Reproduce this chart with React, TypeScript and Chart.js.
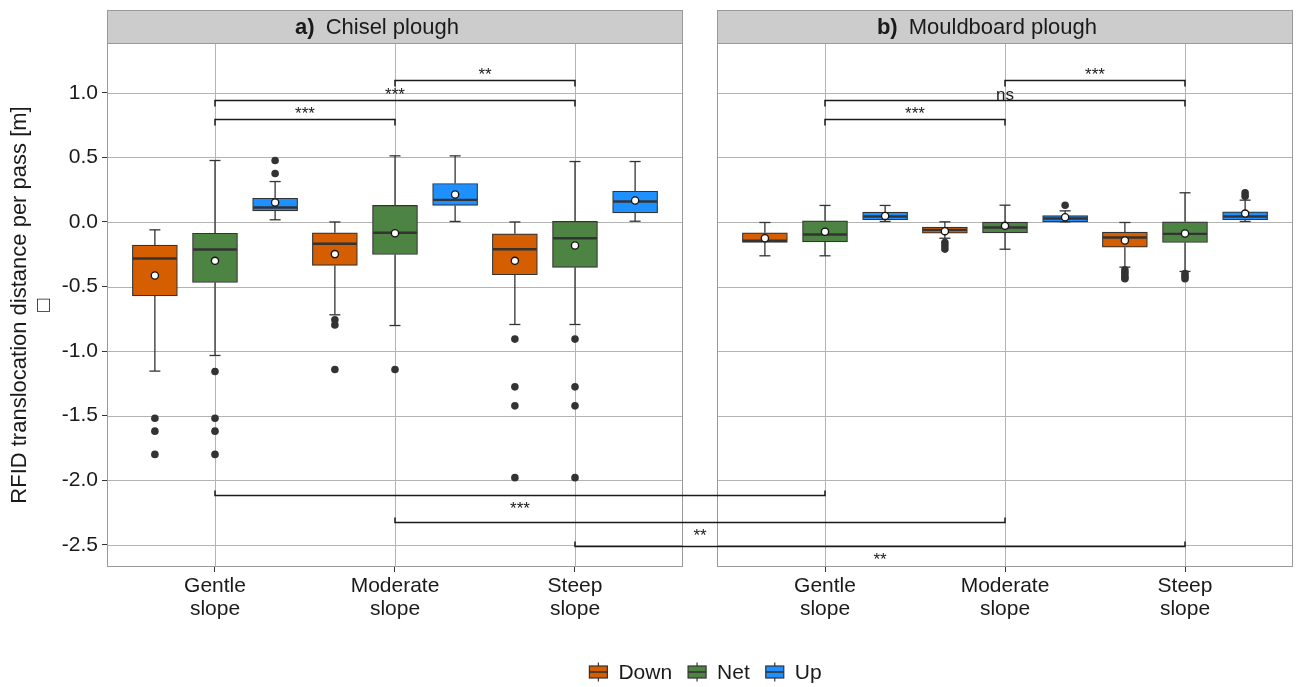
import React, { useEffect, useRef } from 'react';
import { Chart, registerables } from 'chart.js';

Chart.register(...registerables);

const FONT = "'Liberation Sans', Arial, Helvetica, sans-serif";
const TEXT = '#1a1a1a';
const GRID = '#b3b3b3';
const BORDER = '#999999';
const INK = '#333333';

// ---------------- data ----------------
const panelTags = ['a)', 'b)'];
const panelNames = ['Chisel plough', 'Mouldboard plough'];
const slopeLabels = [['Gentle', 'slope'], ['Moderate', 'slope'], ['Steep', 'slope']];
const directions = ['Down', 'Net', 'Up'];
const directionColors = ['#D55E00', '#4E8443', '#1E90FF'];
const yTickValues = [1.0, 0.5, 0.0, -0.5, -1.0, -1.5, -2.0, -2.5];
const yTitle = 'RFID translocation distance per pass [m]';

// [lower whisker, Q1, median, Q3, upper whisker] for Gentle, Moderate, Steep
const chiselDown = [[-1.155, -0.572, -0.283, -0.179, -0.061], [-0.719, -0.337, -0.169, -0.084, 0.0], [-0.794, -0.409, -0.211, -0.092, 0.0]];
const chiselNet = [[-1.034, -0.469, -0.213, -0.087, 0.476], [-0.802, -0.252, -0.084, 0.128, 0.512], [-0.794, -0.352, -0.126, 0.004, 0.468]];
const chiselUp = [[0.017, 0.086, 0.112, 0.184, 0.313], [0.004, 0.128, 0.171, 0.298, 0.512], [0.006, 0.071, 0.158, 0.238, 0.468]];
const mouldDown = [[-0.262, -0.159, -0.146, -0.084, -0.004], [-0.126, -0.087, -0.061, -0.040, 0.001], [-0.350, -0.195, -0.120, -0.079, -0.004]];
const mouldNet = [[-0.262, -0.154, -0.097, 0.009, 0.128], [-0.211, -0.084, -0.043, -0.001, 0.130], [-0.383, -0.159, -0.092, 0.001, 0.226]];
const mouldUp = [[0.004, 0.017, 0.042, 0.076, 0.128], [0.001, 0.001, 0.027, 0.050, 0.086], [0.004, 0.017, 0.042, 0.078, 0.169]];

// means (white dots)
const chiselDownMean = [-0.415, -0.249, -0.301];
const chiselNetMean = [-0.301, -0.087, -0.182];
const chiselUpMean = [0.151, 0.213, 0.166];
const mouldDownMean = [-0.126, -0.071, -0.143];
const mouldNetMean = [-0.076, -0.030, -0.089];
const mouldUpMean = [0.047, 0.037, 0.065];

// outliers
const chiselDownOut = [[-1.52, -1.62, -1.80], [-0.758, -0.797, -1.142], [-0.907, -1.277, -1.424, -1.98]];
const chiselNetOut = [[-1.158, -1.52, -1.62, -1.80], [-1.142], [-0.907, -1.277, -1.424, -1.98]];
const chiselUpOut = [[0.476, 0.375], [], []];
const mouldDownOut = [[], [-0.159, -0.185, -0.21], [-0.37, -0.39, -0.41, -0.43, -0.44]];
const mouldNetOut = [[], [], [-0.40, -0.42, -0.44]];
const mouldUpOut = [[], [0.130], [0.20, 0.225]];

// significance brackets inside panels
const topBracketPanel = [0, 0, 0, 1, 1, 1];
const topBracketFrom = [0, 0, 1, 0, 0, 1];
const topBracketTo = [1, 2, 2, 1, 2, 2];
const topBracketY = [0.80, 0.945, 1.10, 0.80, 0.945, 1.10];
const topBracketLabel = ['***', '***', '**', '***', 'ns', '***'];

// significance brackets between panels (same slope class)
const crossBracketSlope = [0, 1, 2];
const crossBracketY = [-2.117, -2.32, -2.508];
const crossBracketLabel = ['***', '**', '**'];

// ---------------- layout ----------------
const X_MIN = 0.4;
const X_MAX = 6.989;
const PANEL_SHIFT = 3.389;
const DODGE = 0.334;
const Y_MIN = -2.672;
const Y_MAX = 1.386;
const panelRanges = [[0.4, 3.6], [0.4 + PANEL_SHIFT, 3.6 + PANEL_SHIFT]];

const boxData = [[chiselDown, mouldDown], [chiselNet, mouldNet], [chiselUp, mouldUp]];
const meanData = [[chiselDownMean, mouldDownMean], [chiselNetMean, mouldNetMean], [chiselUpMean, mouldUpMean]];
const outData = [[chiselDownOut, mouldDownOut], [chiselNetOut, mouldNetOut], [chiselUpOut, mouldUpOut]];

const catX = (p: number, s: number) => s + 1 + p * PANEL_SHIFT;
const boxX = (p: number, s: number, d: number) => catX(p, s) + (d - 1) * DODGE;
const xTickPositions = [0, 1].flatMap((p) => [0, 1, 2].map((s) => catX(p, s)));

function buildDatasets(): any[] {
  const bars = directions.map((name, d) => ({
    type: 'bar',
    label: name,
    data: [0, 1].flatMap((p) =>
      [0, 1, 2].map((s) => ({
        x: boxX(p, s, d),
        y: [boxData[d][p][s][1], boxData[d][p][s][3]],
        stats: boxData[d][p][s],
      }))
    ),
    backgroundColor: directionColors[d],
    borderColor: INK,
    borderWidth: 1.2,
    borderSkipped: false,
    barThickness: 45,
    grouped: false,
    order: 3,
  }));
  const outliers: any[] = [];
  const means: any[] = [];
  directions.forEach((_, d) =>
    [0, 1].forEach((p) =>
      [0, 1, 2].forEach((s) => {
        outData[d][p][s].forEach((v) => outliers.push({ x: boxX(p, s, d), y: v }));
        means.push({ x: boxX(p, s, d), y: meanData[d][p][s] });
      })
    )
  );
  return [
    ...bars,
    {
      type: 'scatter',
      label: 'outliers',
      data: outliers,
      pointRadius: 3.8,
      pointBackgroundColor: INK,
      pointBorderWidth: 0,
      showLine: false,
      order: 2,
    },
    {
      type: 'scatter',
      label: 'means',
      data: means,
      pointRadius: 3.6,
      pointBackgroundColor: '#ffffff',
      pointBorderColor: '#111111',
      pointBorderWidth: 1.3,
      showLine: false,
      order: 1,
    },
  ];
}

function hline(ctx: CanvasRenderingContext2D, x1: number, x2: number, y: number) {
  ctx.beginPath();
  ctx.moveTo(x1, y);
  ctx.lineTo(x2, y);
  ctx.stroke();
}
function vline(ctx: CanvasRenderingContext2D, x: number, y1: number, y2: number) {
  ctx.beginPath();
  ctx.moveTo(x, y1);
  ctx.lineTo(x, y2);
  ctx.stroke();
}

const facetPlugin = {
  id: 'facets',
  beforeDatasetsDraw(chart: any) {
    const { ctx, chartArea: ca, scales } = chart;
    const xs = scales.x;
    const ys = scales.y;
    ctx.save();
    panelRanges.forEach(([a, b], p) => {
      const l = xs.getPixelForValue(a);
      const r = xs.getPixelForValue(b);
      ctx.fillStyle = '#ffffff';
      ctx.fillRect(l, ca.top, r - l, ca.bottom - ca.top);
      ctx.strokeStyle = GRID;
      ctx.lineWidth = 1;
      yTickValues.forEach((v) => {
        const py = Math.round(ys.getPixelForValue(v)) + 0.5;
        hline(ctx, l, r, py);
      });
      [0, 1, 2].forEach((s) => {
        const px = Math.round(xs.getPixelForValue(catX(p, s))) + 0.5;
        vline(ctx, px, ca.top, ca.bottom);
      });
    });
    // whiskers
    ctx.strokeStyle = INK;
    ctx.lineWidth = 1.3;
    chart.data.datasets.forEach((ds: any) => {
      if (ds.type !== 'bar') return;
      ds.data.forEach((pt: any) => {
        const px = xs.getPixelForValue(pt.x);
        const [lo, q1, , q3, hi] = pt.stats;
        const pLo = ys.getPixelForValue(lo);
        const pHi = ys.getPixelForValue(hi);
        vline(ctx, px, pHi, ys.getPixelForValue(q3));
        vline(ctx, px, ys.getPixelForValue(q1), pLo);
        hline(ctx, px - 5.5, px + 5.5, pHi);
        hline(ctx, px - 5.5, px + 5.5, pLo);
      });
    });
    ctx.restore();
  },
  afterDatasetDraw(chart: any, args: any) {
    const ds = chart.data.datasets[args.index];
    if (ds.type !== 'bar') return;
    const { ctx, scales } = chart;
    const meta = chart.getDatasetMeta(args.index);
    ctx.save();
    ctx.strokeStyle = INK;
    ctx.lineWidth = 2.4;
    ds.data.forEach((pt: any, i: number) => {
      const el = meta.data[i];
      const py = scales.y.getPixelForValue(pt.stats[2]);
      hline(ctx, el.x - el.width / 2 + 0.6, el.x + el.width / 2 - 0.6, py);
    });
    ctx.restore();
  },
  afterDraw(chart: any) {
    const { ctx, chartArea: ca, scales } = chart;
    const xs = scales.x;
    const ys = scales.y;
    ctx.save();
    // panel borders & strips
    panelRanges.forEach(([a, b], p) => {
      const l = Math.round(xs.getPixelForValue(a));
      const r = Math.round(xs.getPixelForValue(b));
      ctx.strokeStyle = BORDER;
      ctx.lineWidth = 1;
      ctx.strokeRect(l + 0.5, ca.top + 0.5, r - l - 1, ca.bottom - ca.top - 1);
      ctx.fillStyle = '#cccccc';
      ctx.fillRect(l, 10, r - l, ca.top - 10);
      ctx.strokeRect(l + 0.5, 10.5, r - l - 1, ca.top - 10);
      ctx.fillStyle = TEXT;
      ctx.textBaseline = 'middle';
      ctx.textAlign = 'left';
      ctx.font = `bold 22px ${FONT}`;
      const wTag = ctx.measureText(panelTags[p]).width;
      ctx.font = `22px ${FONT}`;
      const wName = ctx.measureText(panelNames[p]).width;
      const gap = 11;
      const center = (l + r) / 2 - 18;
      const start = center - (wTag + gap + wName) / 2;
      ctx.font = `bold 22px ${FONT}`;
      ctx.fillText(panelTags[p], start, 27.5);
      ctx.font = `22px ${FONT}`;
      ctx.fillText(panelNames[p], start + wTag + gap, 27.5);
    });

    // brackets
    ctx.strokeStyle = '#1a1a1a';
    ctx.fillStyle = TEXT;
    ctx.lineWidth = 1.5;
    ctx.textAlign = 'center';
    ctx.textBaseline = 'alphabetic';
    ctx.font = `17px ${FONT}`;
    topBracketLabel.forEach((lab, i) => {
      const p = topBracketPanel[i];
      const x1 = xs.getPixelForValue(catX(p, topBracketFrom[i]));
      const x2 = xs.getPixelForValue(catX(p, topBracketTo[i]));
      const py = Math.round(ys.getPixelForValue(topBracketY[i])) + 0.5;
      ctx.beginPath();
      ctx.moveTo(x1, py + 6);
      ctx.lineTo(x1, py);
      ctx.lineTo(x2, py);
      ctx.lineTo(x2, py + 6);
      ctx.stroke();
      ctx.fillText(lab, (x1 + x2) / 2, py - 1);
    });
    crossBracketLabel.forEach((lab, i) => {
      const s = crossBracketSlope[i];
      const x1 = xs.getPixelForValue(catX(0, s));
      const x2 = xs.getPixelForValue(catX(1, s));
      const py = Math.round(ys.getPixelForValue(crossBracketY[i])) + 0.5;
      ctx.beginPath();
      ctx.moveTo(x1, py - 5);
      ctx.lineTo(x1, py);
      ctx.lineTo(x2, py);
      ctx.lineTo(x2, py - 5);
      ctx.stroke();
      ctx.fillText(lab, (x1 + x2) / 2, py + 18);
    });

    // legend (boxplot keys)
    ctx.font = `21px ${FONT}`;
    const keySize = 24;
    const textOffset = 32;
    const widths = directions.map((d) => textOffset + ctx.measureText(d).width);
    const gapItems = 13;
    const total = widths.reduce((a, b) => a + b, 0) + gapItems * (directions.length - 1);
    let lx = 704 - total / 2;
    const cy = 672;
    const top = cy - keySize / 2;
    directions.forEach((d, i) => {
      const kx = lx;
      const mid = kx + keySize / 2;
      ctx.strokeStyle = INK;
      ctx.lineWidth = 1.2;
      vline(ctx, mid, top + keySize * 0.1, top + keySize * 0.25);
      vline(ctx, mid, top + keySize * 0.75, top + keySize * 0.9);
      ctx.fillStyle = directionColors[i];
      const bx = kx + keySize * 0.125;
      const bw = keySize * 0.75;
      const by = top + keySize * 0.25;
      const bh = keySize * 0.5;
      ctx.fillRect(bx, by, bw, bh);
      ctx.strokeRect(bx, by, bw, bh);
      ctx.lineWidth = 1.6;
      hline(ctx, bx, bx + bw, cy);
      ctx.fillStyle = TEXT;
      ctx.textAlign = 'left';
      ctx.textBaseline = 'middle';
      ctx.fillText(d, lx + textOffset, cy + 1);
      lx += widths[i] + gapItems;
    });
    ctx.restore();
  },
};

export default function App() {
  const ref = useRef<HTMLCanvasElement>(null);
  useEffect(() => {
    const canvas = ref.current;
    if (!canvas) return;
    Chart.defaults.font.family = FONT;
    const chart = new Chart(canvas, {
      type: 'bar',
      data: { datasets: buildDatasets() },
      options: {
        responsive: false,
        devicePixelRatio: 1,
        animation: false,
        layout: { padding: { left: 0, right: 7, top: 43, bottom: 50 } },
        plugins: {
          legend: { display: false },
          tooltip: { enabled: false },
        },
        scales: {
          x: {
            type: 'linear',
            min: X_MIN,
            max: X_MAX,
            bounds: 'data',
            offset: false,
            afterBuildTicks: (s: any) => {
              s.ticks = xTickPositions.map((v) => ({ value: v }));
            },
            afterFit: (s: any) => {
              s.height = 70;
            },
            ticks: {
              autoSkip: false,
              maxRotation: 0,
              minRotation: 0,
              padding: 2.5,
              color: TEXT,
              font: { size: 21, lineHeight: 1.1, family: FONT },
              callback: (_v: any, i: number) => slopeLabels[i % 3],
            },
            grid: { drawOnChartArea: false, drawTicks: true, tickLength: 5, tickColor: INK, offset: false },
            border: { display: false },
          },
          y: {
            type: 'linear',
            min: Y_MIN,
            max: Y_MAX,
            bounds: 'data',
            afterBuildTicks: (s: any) => {
              s.ticks = yTickValues.map((v) => ({ value: v }));
            },
            afterFit: (s: any) => {
              s.width = 107;
            },
            ticks: {
              padding: 4,
              color: TEXT,
              font: { size: 21, family: FONT },
              callback: (v: any) => Number(v).toFixed(1),
            },
            grid: { drawOnChartArea: false, drawTicks: true, tickLength: 5, tickColor: INK },
            border: { display: false },
            title: {
              display: true,
              text: [yTitle, '\u25A1'],
              color: TEXT,
              font: { size: 22, lineHeight: 1.1, family: FONT },
              padding: { top: 8, bottom: 0 },
            },
          },
        },
      } as any,
      plugins: [facetPlugin as any],
    } as any);
    return () => chart.destroy();
  }, []);
  return (
    <div style={{ position: 'absolute', left: 0, top: 0, width: 1300, height: 687, background: '#ffffff' }}>
      <canvas ref={ref} width={1300} height={687} style={{ display: 'block', width: 1300, height: 687 }} />
    </div>
  );
}
